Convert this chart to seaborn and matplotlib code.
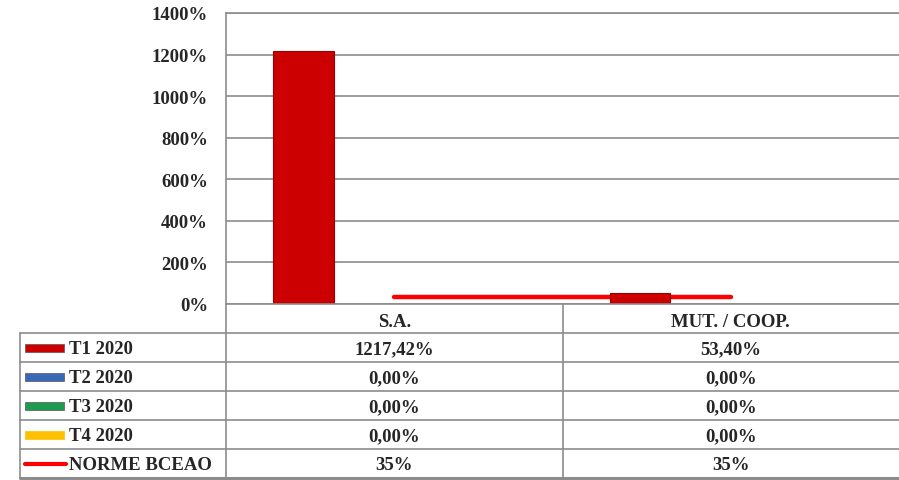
import numpy as np
import pandas as pd
import matplotlib
matplotlib.use('Agg')
import matplotlib.pyplot as plt
import seaborn as sns
from matplotlib.patches import Rectangle

# données
categories = ['S.A.', 'MUT. / COOP.']
series = ['T1 2020', 'T2 2020', 'T3 2020', 'T4 2020']
t1_2020 = [1217.42, 53.40]
t2_2020 = [0.00, 0.00]
t3_2020 = [0.00, 0.00]
t4_2020 = [0.00, 0.00]
norme_label = 'NORME BCEAO'
norme_bceao = [35, 35]
yticks = [0, 200, 400, 600, 800, 1000, 1200, 1400]

couleurs = ['#CC0000', '#3A68B8', '#1E9B50', '#FFC000']
couleur_norme = '#FF0000'
gris = '#8C8C8C'

valeurs = [t1_2020, t2_2020, t3_2020, t4_2020]
df = pd.DataFrame({
    'categorie': categories * len(series),
    'serie': np.repeat(series, len(categories)),
    'valeur': np.concatenate(valeurs),
})

sns.set_theme(style='white')
plt.rcParams['font.family'] = ['Liberation Serif', 'DejaVu Serif']
plt.rcParams['font.weight'] = 'bold'

fig = plt.figure(figsize=(8.99, 4.81), dpi=100)
W, H = 899, 481
ax = fig.add_axes([226 / W, (H - 305) / H, (899 - 226) / W, (305 - 14) / H])

sns.barplot(data=df, x='categorie', y='valeur', hue='serie', order=categories,
            hue_order=series, palette=couleurs, saturation=1, width=0.72, ax=ax,
            edgecolor='#9A0000', linewidth=0.8, legend=False, errorbar=None)
for p in ax.patches:
    p.set_zorder(3)
    if p.get_height() == 0:
        p.set_linewidth(0)

# ligne de la norme (derrière les barres)
x_pos = np.arange(len(categories))
ax.plot(x_pos, norme_bceao, color=couleur_norme, lw=3.2, solid_capstyle='round', zorder=2)

ax.set_xlim(-0.5, 1.5)
ax.set_ylim(0, 1400)
ax.set_yticks(yticks)
ax.set_yticklabels([f'{v}%' for v in yticks], fontsize=13.5, fontweight='bold')
ax.set_xticks([])
ax.set_xlabel('')
ax.set_ylabel('')
ax.tick_params(axis='y', length=0, pad=13)
ax.grid(axis='y', color=gris, lw=1.2)
ax.set_axisbelow(True)
for s in ['right', 'bottom']:
    ax.spines[s].set_visible(False)
ax.spines['left'].set_color(gris)
ax.spines['top'].set_color(gris)
ax.spines['left'].set_linewidth(1.2)
ax.spines['top'].set_linewidth(1.2)

# tableau de données
tab = fig.add_axes([20 / W, (H - 479) / H, (899 - 20) / W, (479 - 305) / H])
xl = -0.5 - 206 / 336.5
tab.set_xlim(xl, 1.5)
tab.set_ylim(6, 0)
tab.axis('off')
kw = dict(color=gris, lw=1.2, clip_on=False)
# lignes horizontales
tab.plot([-0.5, 1.5], [0, 0], **kw)
for r in range(1, 6):
    tab.plot([xl, 1.5], [r, r], **kw)
tab.plot([xl, 1.5], [6, 6], color=gris, lw=2.2, clip_on=False)
# lignes verticales
tab.plot([-0.5, -0.5], [0, 6], **kw)
tab.plot([0.5, 0.5], [0, 6], **kw)
tab.plot([xl, xl], [1, 6], **kw)

for i, c in enumerate(categories):
    tab.text(i, 0.6, c, ha='center', va='center', fontsize=13.5, fontweight='bold')

lignes = valeurs + [norme_bceao]
for r, vals in enumerate(lignes, start=1):
    for i, v in enumerate(vals):
        txt = f'{v:.0f}%' if r == 5 else f'{v:.2f}%'.replace('.', ',')
        tab.text(i, r + 0.55, txt, ha='center', va='center', fontsize=13.5, fontweight='bold')

noms = series + [norme_label]
kx = xl + 5 / 336.5
kw_cle = 39 / 336.5
for r, nom in enumerate(noms, start=1):
    if r < 5:
        tab.add_patch(Rectangle((kx, r + 0.38), kw_cle, 0.26, facecolor=couleurs[r - 1],
                                edgecolor='#555555' if r < 4 else couleurs[r - 1], lw=0.5))
    else:
        tab.plot([kx, kx + 41 / 336.5], [r + 0.5, r + 0.5], color=couleur_norme, lw=3)
    tab.text(kx + 44 / 336.5, r + 0.52, nom, ha='left', va='center', fontsize=13.5, fontweight='bold')

fig.savefig('out.png', dpi=100)
